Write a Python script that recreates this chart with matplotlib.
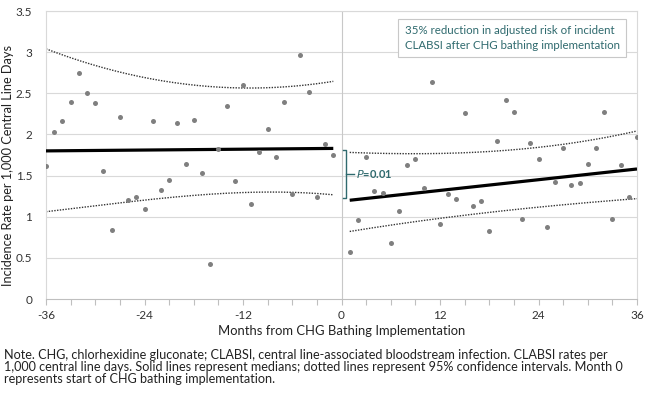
import matplotlib
matplotlib.use("Agg")
import matplotlib.pyplot as plt
import numpy as np

plt.rcParams['font.family'] = ['Lato', 'DejaVu Sans']

# ---- data ----
pre_months = list(range(-36, 0))
pre_rates = [1.62, 2.03, 2.16, 2.40, 2.75, 2.50, 2.38, 1.555, 0.84, 2.21,
             1.20, 1.24, 1.09, 2.16, 1.32, 1.45, 2.14, 1.64, 2.17, 1.53,
             0.43, 1.82, 2.35, 1.44, 2.60, 1.15, 1.79, 2.06, 1.73, 2.40,
             1.28, 2.96, 2.52, 1.24, 1.88, 1.75]
post_months = list(range(1, 37))
post_rates = [0.57, 0.96, 1.72, 1.31, 1.29, 0.68, 1.07, 1.63, 1.70, 1.35,
              2.64, 0.91, 1.28, 1.22, 2.26, 1.13, 1.19, 0.83, 1.92, 2.42,
              2.27, 0.97, 1.90, 1.70, 0.87, 1.42, 1.83, 1.39, 1.41, 1.64,
              1.84, 2.27, 0.97, 1.63, 1.24, 1.97]

pre_median_x = [-36, -1]
pre_median_y = [1.80, 1.83]
post_median_x = [1, 36]
post_median_y = [1.20, 1.58]

pre_ci_x = [-36, -33, -30, -27, -24, -21, -18, -15, -12, -9, -6, -3, -1]
pre_upper = [3.04, 2.93, 2.84, 2.76, 2.69, 2.64, 2.60, 2.57, 2.56, 2.57, 2.59, 2.62, 2.64]
pre_lower = [1.06, 1.10, 1.13, 1.17, 1.20, 1.23, 1.26, 1.28, 1.30, 1.30, 1.29, 1.28, 1.27]

post_ci_x = [1, 6, 12, 18, 24, 30, 36]
post_upper = [1.78, 1.77, 1.77, 1.79, 1.84, 1.93, 2.04]
post_lower = [0.82, 0.90, 0.98, 1.05, 1.12, 1.17, 1.22]

x_ticks = [-36, -24, -12, 0, 12, 24, 36]
y_ticks = [0, 0.5, 1, 1.5, 2, 2.5, 3, 3.5]
y_ticklabels = ['0', '0.5', '1', '1.5', '2', '2.5', '3', '3.5']

annot_text = "35% reduction in adjusted risk of incident\nCLABSI after CHG bathing implementation"
note_lines = ["Note. CHG, chlorhexidine gluconate; CLABSI, central line-associated bloodstream infection. CLABSI rates per",
              "1,000 central line days. Solid lines represent medians; dotted lines represent 95% confidence intervals. Month 0",
              "represents start of CHG bathing implementation."]

teal = '#2F6A6E'
grid_c = '#D9D9D9'

W, H = 650, 397
fig = plt.figure(figsize=(6.5, 3.97), dpi=100)
ax = fig.add_axes([46 / W, 1 - 299 / H, (637 - 46) / W, (299 - 11) / H])

ax.set_xlim(-36, 36)
ax.set_ylim(0, 3.5)

for y in y_ticks[1:]:
    ax.axhline(y, color=grid_c, lw=0.8, zorder=0)
ax.axvline(0, color='#C8C8C8', lw=0.8, zorder=0)

for s in ['top', 'right', 'left']:
    ax.spines[s].set_color(grid_c)
    ax.spines[s].set_linewidth(0.8)
ax.spines['bottom'].set_color('#BFBFBF')
ax.spines['bottom'].set_linewidth(0.8)

ax.set_xticks(x_ticks)
ax.set_xticklabels([str(t) for t in x_ticks], fontsize=8.5)
ax.set_xticks(list(range(-36, 37, 3)), minor=True)
ax.tick_params(axis='x', which='both', direction='out', length=4, color='#BFBFBF', width=0.8)
ax.tick_params(axis='x', which='major', pad=4, labelcolor='#333333')
ax.set_yticks(y_ticks)
ax.set_yticklabels(y_ticklabels, fontsize=8.5)
ax.tick_params(axis='y', length=0, pad=10, labelcolor='#333333')

ax.set_xlabel("Months from CHG Bathing Implementation", fontsize=9.4, color='#222222', labelpad=3)
fig.text(8.5 / W, 1 - 165 / H, "Incidence Rate per 1,000 Central Line Days", rotation=90,
         fontsize=9.2, color='#222222', ha='center', va='center')

# CI lines
def smooth(xs, ys):
    xs = np.asarray(xs, float); ys = np.asarray(ys, float)
    xx = np.linspace(xs[0], xs[-1], 200)
    c = np.polyfit(xs, ys, 3)
    return xx, np.polyval(c, xx)

for xs, ys in [(pre_ci_x, pre_upper), (pre_ci_x, pre_lower), (post_ci_x, post_upper), (post_ci_x, post_lower)]:
    xx, yy = smooth(xs, ys)
    ax.plot(xx, yy, color='#333333', lw=1.0, ls=(0, (1, 1)), zorder=2)

ax.plot(pre_median_x, pre_median_y, color='black', lw=2.3, zorder=3, solid_capstyle='butt')
ax.plot(post_median_x, post_median_y, color='black', lw=2.3, zorder=3, solid_capstyle='butt')

ax.plot(pre_months, pre_rates, 'o', color='#7F7F7F', ms=3.6, mec='none', zorder=4)
ax.plot(post_months, post_rates, 'o', color='#7F7F7F', ms=3.6, mec='none', zorder=4)

# bracket
bx0, bx1 = 0.15, 0.58
ax.plot([bx0, bx1, bx1, bx0], [1.81, 1.81, 1.23, 1.23], color=teal, lw=1.0, zorder=5)
ax.plot([bx1, 1.5], [1.515, 1.515], color=teal, lw=1.0, zorder=5)
ax.text(1.75, 1.515, r"$\mathit{P}$=0.01", fontsize=8, color=teal, va='center', ha='left', zorder=6,
        fontweight='bold')

# annotation box
ax.text(7.7, 3.17, annot_text, fontsize=8.3, color=teal, va='center', ha='left', linespacing=1.4,
        bbox=dict(boxstyle='square,pad=0.55', fc='white', ec='#C8C8C8', lw=0.8), zorder=6)

for i, line in enumerate(note_lines):
    fig.text(4 / W, 1 - (355 + 12.0 * i) / H, line, fontsize=9.1, color='#222222', va='center', ha='left')

fig.savefig('out.png', dpi=100)
